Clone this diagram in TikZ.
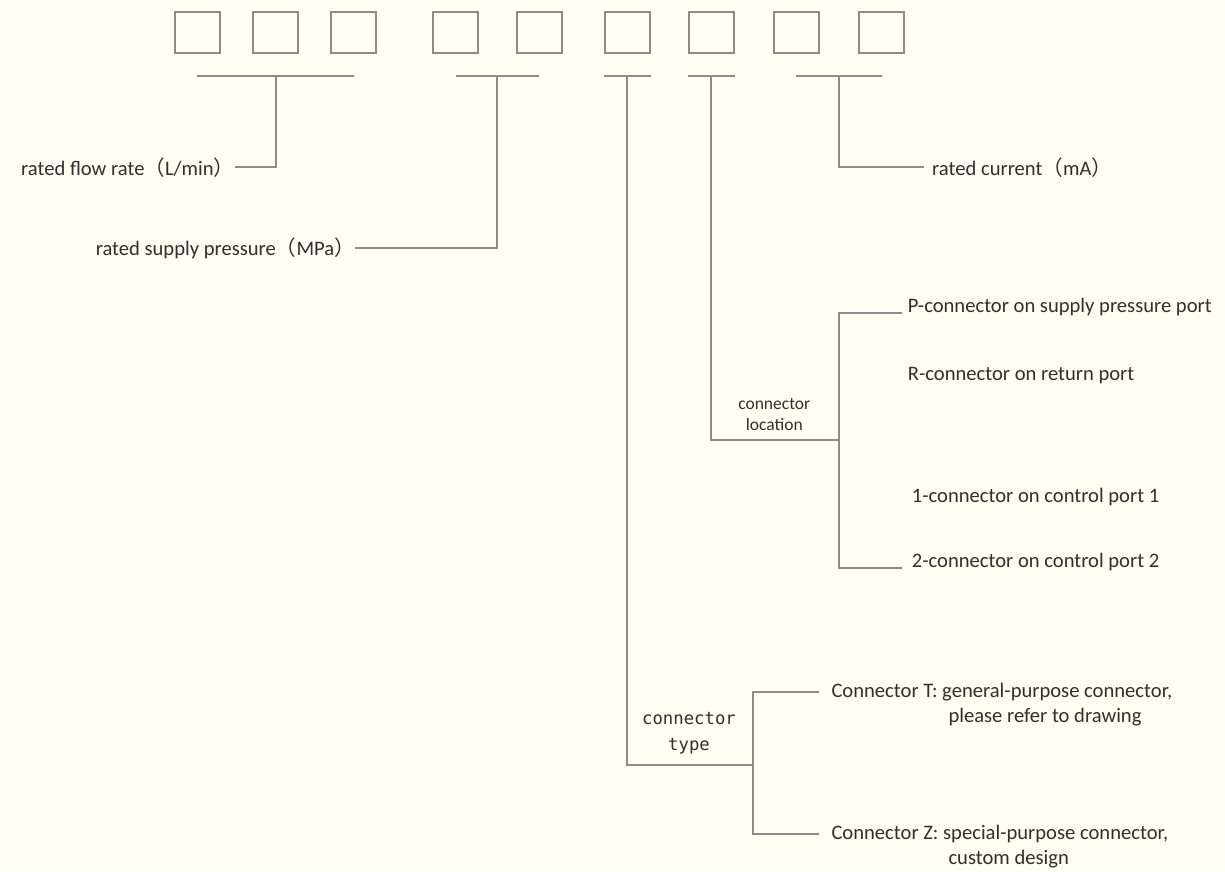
\documentclass[tikz,border=0pt]{standalone}
\usepackage{fontspec}
\setmainfont{Carlito}
\newfontfamily\cjk{Noto Sans CJK SC}
\newfontfamily\monofont{DejaVu Sans Mono}
\usepackage{xcolor}
\usepackage{tikz}
\usetikzlibrary{positioning}
\definecolor{paper}{RGB}{254,254,242}
\definecolor{wire}{RGB}{140,140,140}
\definecolor{ink}{RGB}{48,48,48}
\newcommand{\lpar}{{\cjk （}}
\newcommand{\rpar}{{\cjk ）}}

\begin{document}
\begin{tikzpicture}[x=1pt,y=-1pt, every node/.style={font=\fontsize{20.6}{26}\selectfont,text=ink,inner sep=0pt}, slot/.style={draw=wire,line width=2pt,minimum width=45pt,minimum height=41pt}, ln/.style={draw=wire,line width=2pt}, small/.style={font=\fontsize{17.5}{21}\selectfont,align=center}, mono/.style={font=\monofont\fontsize{17.3}{26}\selectfont,align=center}]
\fill[paper] (0,0) rectangle (1225,871);
\useasboundingbox (0,0) rectangle (1225,871);
\foreach \x [count=\i] in {197,275.5,353.7,455.7,539,627,711,796,881.7}
  \node[slot] (b\i) at (\x,32) {};
\coordinate (bar) at (0,76);
\draw[ln] (b1 |- bar) -- (b3 |- bar);
\draw[ln] (b4 |- bar) -- (b5 |- bar);
\draw[ln] (b6.west |- bar) -- (b6.east |- bar);
\draw[ln] (b7.west |- bar) -- (b7.east |- bar);
\draw[ln] (b8 |- bar) -- (b9 |- bar);
\coordinate (k1) at (b2 |- bar);
\coordinate (k2) at (497.4,76);
\coordinate (k3) at (b6 |- bar);
\coordinate (k4) at (b7 |- bar);
\coordinate (k5) at (838.9,76);
\node[anchor=east] (flow) at (234.5,167.3) {rated flow rate\lpar L/min\rpar};
\node[anchor=east] (supp) at (355,248.3) {rated supply pressure\lpar MPa\rpar};
\node[anchor=west,inner xsep=8pt] (curr) at (924,167.3) {rated current\lpar mA\rpar};
\draw[ln] (k1) |- (flow);
\draw[ln] (k2) |- (supp);
\draw[ln] (k5) |- (curr);
\coordinate (j4) at (838.7,440);
\node[small] (loc) at (774.3,414.5) {connector\\location};
\node[anchor=base west,inner xsep=6pt] (pP) at (901.7,312.7) {P-connector on supply pressure port};
\node[anchor=base west,inner xsep=6pt] (pR) at (901.7,380) {R-connector on return port};
\node[anchor=base west,inner xsep=10pt] (p1) at (901.7,502.7) {1-connector on control port 1};
\node[anchor=base west,inner xsep=10pt] (p2) at (901.7,567.7) {2-connector on control port 2};
\draw[ln] (k4) |- (j4);
\draw[ln] (j4) |- (pP.base west);
\draw[ln] (j4) |- (p2.base west);
\coordinate (j3) at (753.3,765);
\node[mono] (typ) at (689,733.7) {connector\\type};
\node[anchor=west,inner xsep=12pt] (cT) at (819.3,691.7) {Connector T: general-purpose connector,};
\node[anchor=base west] (cTx) at (948.3,722) {please refer to drawing};
\node[anchor=west,inner xsep=12pt] (cZ) at (819.3,834.3) {Connector Z: special-purpose connector,};
\node[anchor=base west] (cZx) at (948.3,864) {custom design};
\draw[ln] (k3) |- (j3);
\draw[ln] (j3) |- (cT);
\draw[ln] (j3) |- (cZ);
\end{tikzpicture}
\end{document}
